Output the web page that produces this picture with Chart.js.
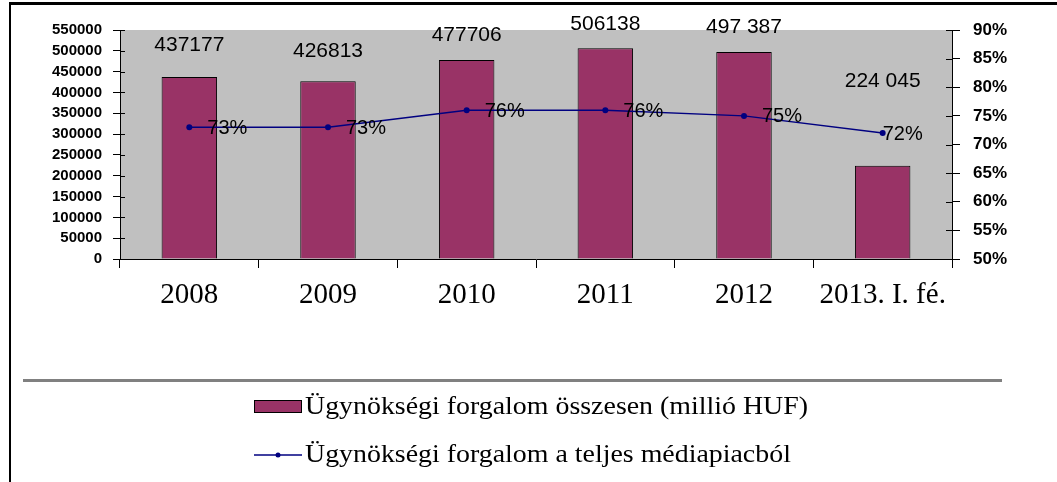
<!DOCTYPE html>
<html>
<head>
<meta charset="utf-8">
<title>Ügynökségi forgalom</title>
<script src="https://cdn.jsdelivr.net/npm/chart.js@4.4.1/dist/chart.umd.min.js"></script>
<style>
    html, body { margin: 0; padding: 0; background: #fff; }
    #wrap { width: 1057px; height: 482px; }
</style>
</head>
<body>
<div id="wrap"><canvas id="chart" width="1057" height="482"></canvas></div>
<script>
// data
const years = ['2008', '2009', '2010', '2011', '2012', '2013. I. fé.']
const turnover = [437177, 426813, 477706, 506138, 497387, 224045]
const turnoverText = ['437177', '426813', '477706', '506138', '497 387', '224 045']
const share = [73, 73, 76, 76, 75, 72]
const seriesNames = [
    'Ügynökségi forgalom összesen (millió HUF)',
    'Ügynökségi forgalom a teljes médiapiacból',
]

// label placement (pixels), as laid out by hand in the original
const barLabelLift = [32, 30, 25, 24, 25, 85]
const shareLabelDx = [18, 18, 18, 18, 18, 0]

const BAR = '#993366'
const LINE = '#000080'
const PLOT = '#c0c0c0'

const plotBg = {
    id: 'plotBg',
    beforeDraw(chart) {
        const { ctx, chartArea: a } = chart
        ctx.save()
        ctx.fillStyle = PLOT
        ctx.fillRect(a.left, a.top, a.right - a.left, a.bottom - a.top)
        // page frame
        ctx.fillStyle = '#000'
        ctx.fillRect(9, 2, 1048, 3)
        ctx.fillRect(9, 2, 2, 480)
        ctx.restore()
    },
    afterDraw(chart) {
        // inner halves of the cross ticks on both value axes
        const { ctx, scales } = chart
        ctx.save()
        ctx.strokeStyle = '#000'
        ctx.lineWidth = 1
        const stub = (sc, x0, x1) => {
            sc.ticks.forEach(t => {
                const y = Math.round(sc.getPixelForValue(t.value)) + 0.5
                ctx.beginPath()
                ctx.moveTo(x0, y)
                ctx.lineTo(x1, y)
                ctx.stroke()
            })
        }
        stub(scales.y, scales.y.right, scales.y.right + 5)
        stub(scales.y1, scales.y1.left - 6, scales.y1.left)
        ctx.restore()
    },
}

const valueLabels = {
    id: 'valueLabels',
    afterDatasetsDraw(chart) {
        const { ctx } = chart
        ctx.save()
        ctx.fillStyle = '#000'
        ctx.textBaseline = 'middle'
        ctx.font = '21px "Liberation Sans", Arial, sans-serif'
        ctx.textAlign = 'center'
        chart.getDatasetMeta(0).data.forEach((bar, i) => {
            ctx.fillText(turnoverText[i], bar.x, bar.y - barLabelLift[i])
        })
        ctx.font = '20px "Liberation Sans", Arial, sans-serif'
        ctx.textAlign = 'left'
        chart.getDatasetMeta(1).data.forEach((pt, i) => {
            ctx.fillText(share[i] + '%', pt.x + shareLabelDx[i], pt.y + 1)
        })
        ctx.restore()
    },
}

const bottomLegend = {
    id: 'bottomLegend',
    afterDraw(chart) {
        const { ctx } = chart
        ctx.save()
        ctx.fillStyle = '#808080'
        ctx.fillRect(23, 379, 979, 3)

        ctx.font = '26px "Liberation Serif", "Times New Roman", serif'
        ctx.textBaseline = 'middle'
        const sx = 503 / ctx.measureText(seriesNames[0]).width

        // bar swatch
        ctx.fillStyle = BAR
        ctx.fillRect(254, 400, 48, 13)
        ctx.strokeStyle = '#000'
        ctx.lineWidth = 1
        ctx.strokeRect(254.5, 400.5, 47, 12)

        // line swatch
        ctx.strokeStyle = LINE
        ctx.lineWidth = 1.5
        ctx.beginPath()
        ctx.moveTo(254, 455)
        ctx.lineTo(302, 455)
        ctx.stroke()
        ctx.fillStyle = LINE
        ctx.beginPath()
        ctx.arc(278, 455, 2.5, 0, Math.PI * 2)
        ctx.fill()

        ctx.fillStyle = '#000'
        ;[407, 455].forEach((y, i) => {
            ctx.save()
            ctx.translate(305, y)
            ctx.scale(sx, 1)
            ctx.fillText(seriesNames[i], 0, 0)
            ctx.restore()
        })
        ctx.restore()
    },
}

new Chart('chart', {
    data: {
        labels: years,
        datasets: [
            {
                type: 'bar',
                label: seriesNames[0],
                data: turnover,
                yAxisID: 'y',
                backgroundColor: BAR,
                borderColor: '#000',
                borderWidth: 1,
                barPercentage: 0.4,
                categoryPercentage: 1,
                order: 1,
            },
            {
                type: 'line',
                label: seriesNames[1],
                data: share,
                yAxisID: 'y1',
                borderColor: LINE,
                backgroundColor: LINE,
                borderWidth: 1.5,
                pointRadius: 3,
                pointBorderWidth: 0,
                tension: 0,
                order: 0,
            },
        ],
    },
    options: {
        responsive: false,
        animation: false,
        layout: { padding: { top: 30, left: 0, right: 0, bottom: 0 } },
        plugins: {
            legend: { display: false },
            tooltip: { enabled: false },
        },
        scales: {
            x: {
                grid: { drawOnChartArea: false, drawTicks: true, tickLength: 9, color: '#000', offset: true },
                border: { display: true, color: '#000', width: 1 },
                ticks: {
                    color: '#000',
                    padding: 10,
                    maxRotation: 0,
                    autoSkip: false,
                    font: { family: '"Liberation Serif", "Times New Roman", serif', size: 29 },
                },
                afterFit(s) { s.height = 223 },
            },
            y: {
                position: 'left',
                min: 0,
                max: 550000,
                grid: { drawOnChartArea: false, drawTicks: true, tickLength: 7, color: '#000' },
                border: { display: true, color: '#000', width: 1 },
                ticks: {
                    stepSize: 50000,
                    autoSkip: false,
                    color: '#000',
                    padding: 11,
                    font: { family: '"Liberation Sans", Arial, sans-serif', size: 15, weight: 'bold' },
                    callback: v => String(v),
                },
                afterFit(s) { s.width = 120 },
            },
            y1: {
                position: 'right',
                min: 50,
                max: 90,
                grid: { drawOnChartArea: false, drawTicks: true, tickLength: 8, color: '#000' },
                border: { display: true, color: '#000', width: 1 },
                ticks: {
                    stepSize: 5,
                    autoSkip: false,
                    color: '#000',
                    padding: 13,
                    font: { family: '"Liberation Sans", Arial, sans-serif', size: 17, weight: 'bold' },
                    callback: v => v + '%',
                },
                afterFit(s) { s.width = 105 },
            },
        },
    },
    plugins: [plotBg, valueLabels, bottomLegend],
})
</script>
</body>
</html>
